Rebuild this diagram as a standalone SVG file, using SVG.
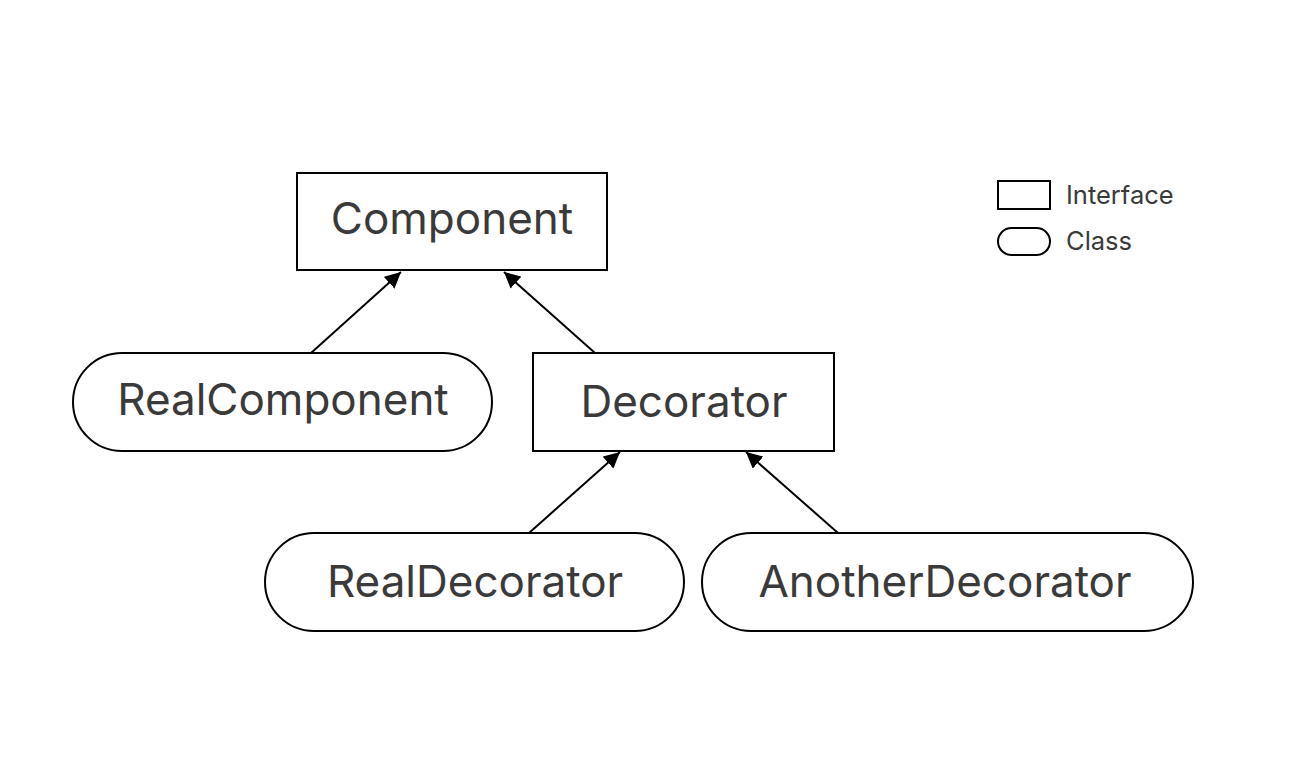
<svg xmlns="http://www.w3.org/2000/svg" width="1298" height="778" viewBox="0 0 1298 778">
<style>
.box{fill:#fff;stroke:#000;stroke-width:2}
.lbl{font-family:Inter,"Noto Sans",sans-serif;font-size:44px;fill:#3a3a3a;text-anchor:middle}
.leg{font-family:Inter,"Noto Sans",sans-serif;font-size:25.5px;fill:#3a3a3a}
.edge{stroke:#000;stroke-width:2;fill:none;marker-end:url(#arr)}
</style>
<defs>
<marker id="arr" viewBox="0 0 10 10" refX="10" refY="5" markerWidth="8" markerHeight="8" markerUnits="strokeWidth" orient="auto">
<path d="M0,0 L10,5 L0,10 z" fill="#000"/>
</marker>
</defs>
<rect width="1298" height="778" fill="#fff"/>
<g id="connectors">
<line class="edge" x1="311" y1="353" x2="401" y2="272"/>
<line class="edge" x1="595" y1="353" x2="504" y2="272"/>
<line class="edge" x1="529" y1="533" x2="620" y2="452"/>
<line class="edge" x1="838" y1="533" x2="746" y2="452"/>
</g>
<g id="component">
<rect class="box" x="297" y="173" width="310" height="97"/>
<text class="lbl" x="452" y="234">Component</text>
</g>
<g id="realcomponent">
<rect class="box" x="73" y="353" width="419" height="98" rx="49"/>
<text class="lbl" x="283" y="415">RealComponent</text>
</g>
<g id="decorator">
<rect class="box" x="533" y="353" width="301" height="98"/>
<text class="lbl" x="684" y="417">Decorator</text>
</g>
<g id="realdecorator">
<rect class="box" x="265" y="533" width="419" height="98" rx="49"/>
<text class="lbl" x="475" y="597">RealDecorator</text>
</g>
<g id="anotherdecorator">
<rect class="box" x="702" y="533" width="491" height="98" rx="49"/>
<text class="lbl" x="945" y="597">AnotherDecorator</text>
</g>
<g id="legend">
<rect class="box" x="998" y="181" width="52" height="28"/>
<text class="leg" x="1066" y="204">Interface</text>
<rect class="box" x="998" y="228" width="52" height="27" rx="13.5"/>
<text class="leg" x="1066" y="250">Class</text>
</g>
</svg>
